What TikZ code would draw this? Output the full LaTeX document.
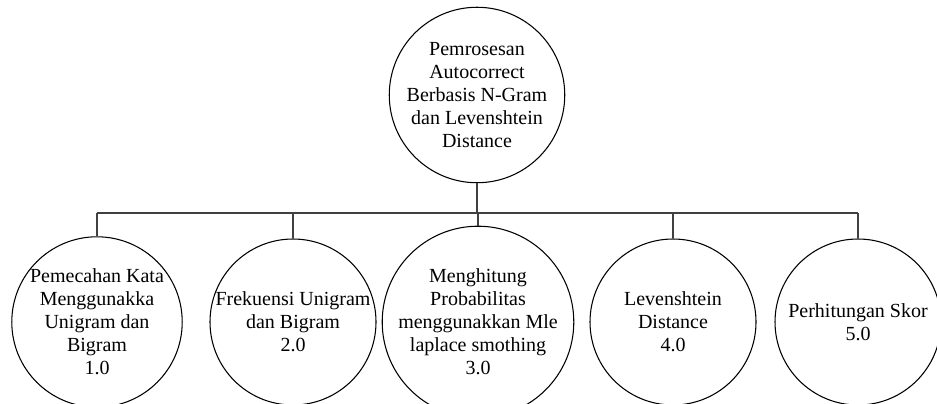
\documentclass[tikz,border=0pt]{standalone}
\usepackage{fontspec}
\setmainfont{Liberation Serif}

\begin{document}
\begin{tikzpicture}[x=0.75pt, y=-0.75pt, line width=0.8pt, proc/.style = {circle, draw, inner sep=0pt, minimum size=124.5pt, align=center, font=\fontsize{15}{17.25}\selectfont}]
			\useasboundingbox (0,0) rectangle (937,403);
			\clip (0,0) rectangle (937,403);
			\node[proc, minimum size=121.5pt] (main) at (477,95) {Pemrosesan\\Autocorrect\\Berbasis N-Gram\\dan Levenshtein\\Distance};
			\node[proc] (pecah) at (97,322) {Pemecahan Kata\\Menggunakka\\Unigram dan\\Bigram\\1.0};
			\node[proc] (frek) at (293,322) {Frekuensi Unigram\\dan Bigram\\2.0};
			\node[proc] (prob) at (478,322) {Menghitung\\Probabilitas\\menggunakkan Mle\\laplace smothing\\3.0};
			\node[proc] (leven) at (673,322) {Levenshtein\\Distance\\4.0};
			\node[proc] (skor) at (858,322) {Perhitungan Skor\\5.0};
			\coordinate (busL) at (97,213);
			\coordinate (busR) at (858,213);
			\draw[black!75] (main.south) -- (main.south |- busL);
			\draw[black!75] (busL) -- (busR);
			\foreach \n in {pecah, frek, prob, leven, skor}
				\draw[black!75] (\n.north |- busL) -- (\n.north);
		\end{tikzpicture}
\end{document}
